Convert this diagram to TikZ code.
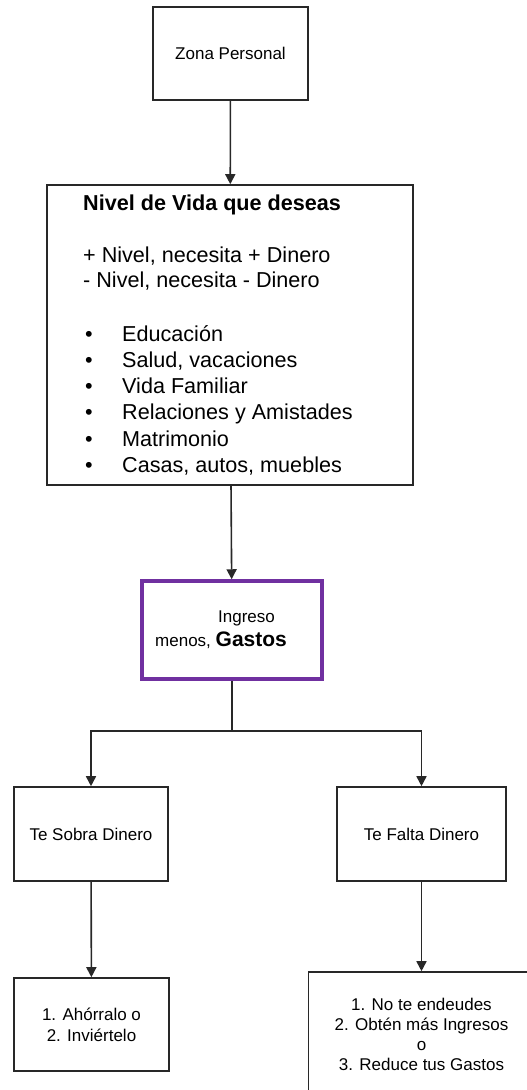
\documentclass[tikz,border=0pt]{standalone}
\usepackage{fontspec}
\setmainfont{Liberation Sans}
\usepackage{tikz}
\usetikzlibrary{arrows.meta}
\usetikzlibrary{positioning}

\definecolor{morado}{RGB}{112,48,160}
\definecolor{borde}{RGB}{40,40,40}

\begin{document}
\begin{tikzpicture}[x=1pt, y=-1pt,
        caja/.style={shape=rectangle, draw=borde, line width=1.6pt, inner sep=0pt},
        chico/.style={font=\fontsize{17}{21}\selectfont, align=center},
        texto/.style={anchor=base west, inner sep=0pt, font=\fontsize{17}{21}\selectfont},
        grande/.style={anchor=base west, inner sep=0pt, font=\fontsize{21.6}{25}\selectfont},
        flecha/.style={draw=borde, line width=1.6pt, -{Triangle[width=10pt,length=10pt]}},
        linea/.style={draw=borde, line width=1.6pt}]
        \useasboundingbox (0,0) rectangle (527,1090);

        % zona personal
        \node (zona) at (230.5,53.5) [caja, chico, minimum width=155pt, minimum height=93pt] {Zona Personal};

        % nivel de vida
        \node (vida) at (230,335) [caja, minimum width=366pt, minimum height=300pt] {};
        \node (titulo) at (83,210) [grande] {\bfseries Nivel de Vida que deseas};
        \node (mas) at (83,262) [grande] {+ Nivel, necesita + Dinero};
        \node (menos) at (83,287) [grande] {- Nivel, necesita - Dinero};
        \node (edu) at (85,341) [grande] {\makebox[37pt][l]{•}Educación};
        \node (salud) at (85,367) [grande] {\makebox[37pt][l]{•}Salud, vacaciones};
        \node (familia) at (85,393) [grande] {\makebox[37pt][l]{•}Vida Familiar};
        \node (amigos) at (85,419) [grande] {\makebox[37pt][l]{•}Relaciones y Amistades};
        \node (matri) at (85,446) [grande] {\makebox[37pt][l]{•}Matrimonio};
        \node (casas) at (85,472) [grande] {\makebox[37pt][l]{•}Casas, autos, muebles};

        % ingreso menos gastos
        \node (balance) at (232,630) [shape=rectangle, draw=morado, line width=3.5pt, minimum width=180pt, minimum height=98pt] {};
        \node (ingreso) at (218,622) [texto] {Ingreso};
        \node (gastos) at (155,646) [texto] {menos, {\fontsize{21}{25}\selectfont\bfseries Gastos}};

        % resultados
        \node (sobra) at (91,834) [caja, chico, minimum width=154pt, minimum height=94pt] {Te Sobra Dinero};
        \node (falta) at (421.5,834) [caja, chico, minimum width=169pt, minimum height=94pt] {Te Falta Dinero};

        % acciones
        \node (ahorro) at (91.5,1024.5) [caja, font=\fontsize{17}{21}\selectfont, align=center, minimum width=155pt, minimum height=93pt] {1. Ahórralo o\\2. Inviértelo};
        \node (acciones) at (421.5,1034) [caja, font=\fontsize{17}{20}\selectfont, align=center, minimum width=226pt, minimum height=124pt] {1. No te endeudes\\2. Obtén más Ingresos\\o\\3. Reduce tus Gastos};

        % connections
        \coordinate (split) at (232,731);
        \draw[flecha] (zona) -- (vida);
        \draw[flecha] (vida) -- (balance);
        \draw[linea] (balance) -- (split);
        \draw[flecha] (split) -| (sobra);
        \draw[flecha] (split) -| (falta);
        \draw[flecha] (sobra) -- (ahorro);
        \draw[flecha] (falta) -- (acciones);
    \end{tikzpicture}
\end{document}
